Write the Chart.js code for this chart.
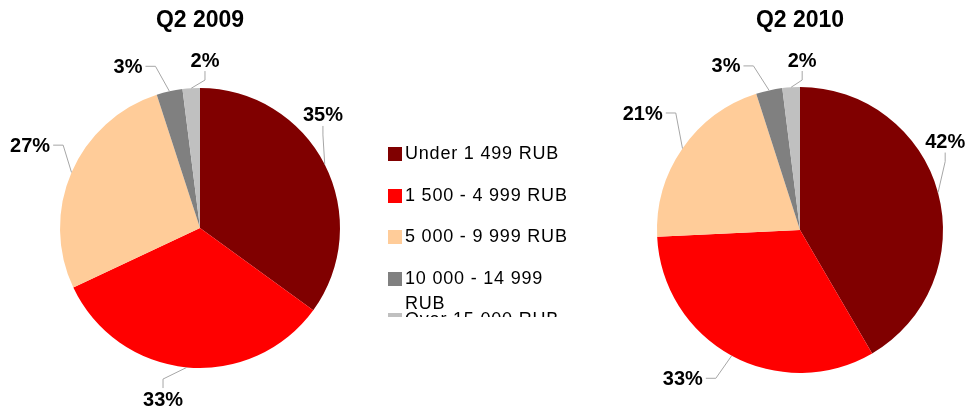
<!DOCTYPE html>
<html>
<head>
<meta charset="utf-8">
<script src="https://cdn.jsdelivr.net/npm/chart.js@4.4.1/dist/chart.umd.min.js"></script>
<style>
    body { margin: 0; background: #fff; width: 969px; height: 408px; overflow: hidden; position: relative; font-family: "Liberation Sans", Arial, sans-serif; }
    #chart2009 { position: absolute; left: 0; top: 0; }
    #chart2010 { position: absolute; left: 600px; top: 0; }
    #legend { position: absolute; left: 388px; top: 141px; width: 200px; height: 176px; overflow: hidden; }
    .item { position: relative; height: 41.5px; }
    .swatch { position: absolute; left: 0; top: 6px; width: 14px; height: 14px; }
    .label { position: absolute; left: 17px; top: 0; width: 172px; font-size: 18px; line-height: 25px; letter-spacing: 0.8px; color: #000; }
</style>
</head>
<body>
<canvas id="chart2009" width="400" height="408"></canvas>
<div id="legend"></div>
<canvas id="chart2010" width="369" height="408"></canvas>
<script>
// Data
const categories = ["Under 1 499 RUB", "1 500 - 4 999 RUB", "5 000 - 9 999 RUB", "10 000 - 14 999 RUB", "Over 15 000 RUB"];
const sliceColors = ["#800000", "#FF0000", "#FFCC99", "#808080", "#C0C0C0"];
const share2009 = [35, 33, 27, 3, 2];
const share2010 = [42, 33, 21, 3, 2];

Chart.defaults.font.family = "'Liberation Sans', Arial, sans-serif";

// percent labels outside the pie, joined to the slice by an elbow leader line
// shift = degrees the label is turned from the slice middle, gap = px beyond the rim
const outLabels = {
    id: "outLabels",
    afterDatasetsDraw(chart, args, opts) {
        const ctx = chart.ctx;
        const meta = chart.getDatasetMeta(0);
        const values = chart.data.datasets[0].data;
        ctx.save();
        ctx.font = "bold 20px 'Liberation Sans', Arial, sans-serif";
        ctx.textAlign = "center";
        ctx.textBaseline = "middle";
        meta.data.forEach((arc, i) => {
            const p = arc.getProps(["x", "y", "startAngle", "endAngle", "outerRadius"], true);
            const mid = (p.startAngle + p.endAngle) / 2;
            const ax = p.x + Math.cos(mid) * p.outerRadius;
            const ay = p.y + Math.sin(mid) * p.outerRadius;

            const la = mid + (opts.shift[i] || 0) * Math.PI / 180;
            const dist = p.outerRadius + (opts.gap[i] || 30);
            const cx = p.x + Math.cos(la) * dist;
            const cy = p.y + Math.sin(la) * dist;

            const text = values[i] + "%";
            const hw = ctx.measureText(text).width / 2 + 3;
            const hh = 8 + 3;

            let ex, ey, bx, by;
            if (Math.abs(cx - ax) > Math.abs(cy - ay)) {
                const s = ax > cx ? 1 : -1;
                ex = cx + s * hw; ey = cy;
                bx = ex + s * 10; by = cy;
            } else {
                const s = ay > cy ? 1 : -1;
                ex = cx; ey = cy + s * hh;
                bx = cx; by = ey + s * 9;
            }
            ctx.strokeStyle = "#A6A6A6";
            ctx.lineWidth = 1;
            ctx.beginPath();
            ctx.moveTo(ax, ay);
            ctx.lineTo(bx, by);
            ctx.lineTo(ex, ey);
            ctx.stroke();

            ctx.fillStyle = "#000";
            ctx.fillText(text, cx, cy + 1);
        });
        ctx.restore();
    }
};

function makePie(canvasId, title, values, padding, titlePad, labelOpts) {
    const ctx = document.getElementById(canvasId).getContext("2d");
    return new Chart(ctx, {
        type: "pie",
        data: {
            labels: categories,
            datasets: [{
                data: values,
                backgroundColor: sliceColors,
                borderWidth: 0
            }]
        },
        options: {
            responsive: false,
            animation: false,
            layout: { padding: padding },
            plugins: {
                legend: { display: false },
                tooltip: { enabled: false },
                title: {
                    display: true,
                    text: title,
                    color: "#000",
                    font: { size: 23, weight: "bold" },
                    padding: titlePad
                },
                outLabels: labelOpts
            }
        },
        plugins: [outLabels]
    });
}

makePie("chart2009", "Q2 2009", share2009,
    { left: 60, right: 60, top: 0, bottom: 40 }, { top: 7, bottom: 53.4 },
    { shift: [-15.6, 6.8, 2.6, -11.4, 5.3], gap: [27, 35, 49, 37, 28] });
makePie("chart2010", "Q2 2010", share2010,
    { left: 57, right: 26, top: 0, bottom: 35 }, { top: 7, bottom: 52.4 },
    { shift: [-16.2, 9.8, 1.9, -11.8, 4.3], gap: [27, 46, 53, 37, 27] });

// legend shared by both pies
const legend = document.getElementById("legend");
categories.forEach((name, i) => {
    const item = document.createElement("div");
    item.className = "item";
    item.innerHTML = '<span class="swatch" style="background:' + sliceColors[i] + '"></span><span class="label">' + name + '</span>';
    legend.appendChild(item);
});
</script>
</body>
</html>
